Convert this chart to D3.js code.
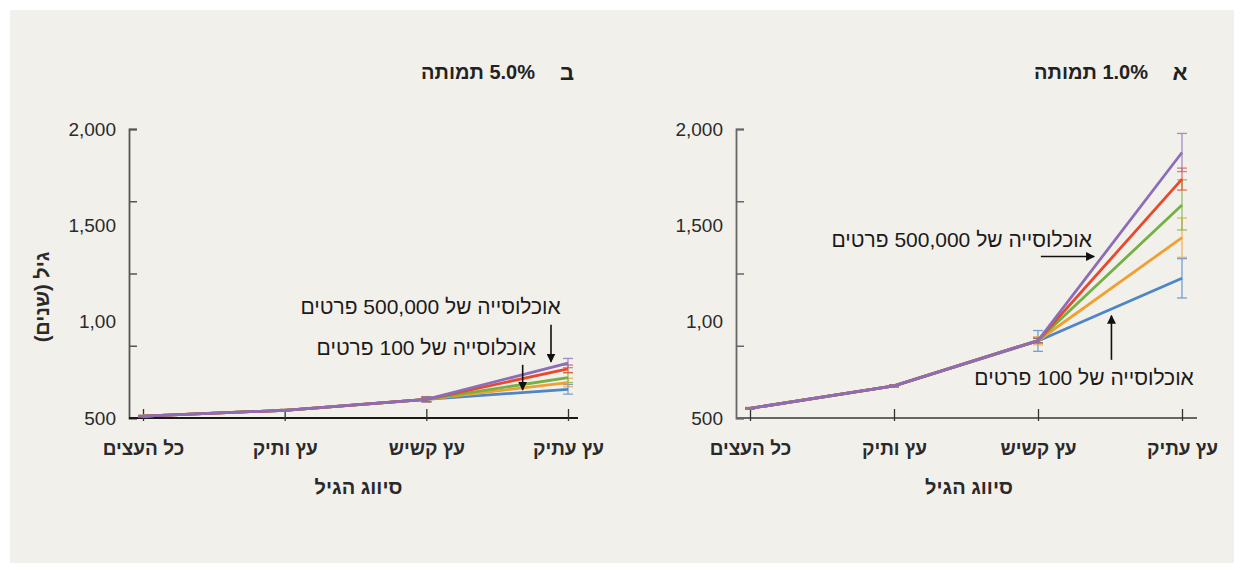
<!DOCTYPE html>
<html>
<head>
<meta charset="utf-8">
<script src="https://cdn.jsdelivr.net/npm/d3@7"></script>
<style>
  html, body { margin: 0; padding: 0; background: #ffffff; }
  svg { display: block; font-family: "Liberation Sans", "DejaVu Sans", "Open Sans", sans-serif; }
</style>
</head>
<body>
<svg id="chart" width="1244" height="573"></svg>
<script>
// ---------- data ----------
const categories = ["כל העצים", "עץ ותיק", "עץ קשיש", "עץ עתיק"];
const seriesKeys = ["s100", "s2", "s3", "s4", "s500000"];
const seriesColors = ["#4d86c6", "#f0a030", "#74b043", "#ea482c", "#8b6db8"];

// panel א : 1.0% mortality
const mortality1Values = [
  [550, 667, 900, 1225],
  [550, 667, 901, 1436],
  [550, 667, 902, 1606],
  [550, 667, 902, 1740],
  [550, 667, 902, 1878]
];
const mortality1Errors = [
  [4, 5, 54, 102],
  [4, 5, 21, 102],
  [4, 5, 12, 130],
  [4, 5, 12, 57],
  [4, 5, 12, 99]
];
// panel ב : 5.0% mortality
const mortality5Values = [
  [510, 540, 597, 649],
  [510, 540, 597, 684],
  [510, 540, 597, 710],
  [510, 540, 597, 755],
  [510, 540, 597, 785]
];
const mortality5Errors = [
  [3, 4, 14, 25],
  [3, 4, 12, 22],
  [3, 4, 12, 26],
  [3, 4, 12, 20],
  [3, 4, 12, 24]
];

const yTickMarks = [500, 875, 1250, 1625, 2000];
const yLabelValues = [500, 1000, 1500, 2000];
const yLabelTexts = ["500", "1,00", "1,500", "2,000"];

const panelLetters = ["א", "ב"];
const panelTitles = ["1.0% תמותה", "5.0% תמותה"];
const xAxisTitle = "סיווג הגיל";
const yAxisTitle = "גיל (שנים)";
const annoBig = "אוכלוסייה של 500,000 פרטים";
const annoSmall = "אוכלוסייה של 100 פרטים";

// ---------- drawing ----------
const svg = d3.select("#chart");
svg.append("rect").attr("x", 10).attr("y", 10).attr("width", 1224).attr("height", 553).attr("fill", "#f2f0ea");

const defs = svg.append("defs");
defs.append("marker").attr("id", "arrow").attr("viewBox", "0 0 10 10")
  .attr("refX", 9).attr("refY", 5).attr("markerWidth", 9).attr("markerHeight", 9)
  .attr("markerUnits", "userSpaceOnUse").attr("orient", "auto")
  .append("path").attr("d", "M0,0 L10,5 L0,10 z").attr("fill", "#111");

const panels = [
  {
    values: mortality1Values, errors: mortality1Errors,
    axisX0: 736, axisX1: 1197, xr: [750, 1182], xAxisColor: "#666", yAxisColor: "#666",
    letter: panelLetters[0], title: panelTitles[0], letterX: 1180, titleX: 1091, showYTitle: false,
    annos: [
      { text: annoBig, tx: 1.47, ty: 1427 },
      { text: annoSmall, tx: 2.32, ty: 708 }
    ],
    arrows: [
      { x1: 2.02, y1: 1338, x2: 2.39, y2: 1338 },
      { x1: 2.51, y1: 802, x2: 2.51, y2: 1031 }
    ]
  },
  {
    values: mortality5Values, errors: mortality5Errors,
    axisX0: 129, axisX1: 578, xr: [143, 568], xAxisColor: "#1a1a1a", yAxisColor: "#555",
    letter: panelLetters[1], title: panelTitles[1], letterX: 567, titleX: 478, showYTitle: true,
    annos: [
      { text: annoBig, tx: 2.03, ty: 1078 },
      { text: annoSmall, tx: 2.0, ty: 865 }
    ],
    arrows: [
      { x1: 2.88, y1: 984, x2: 2.88, y2: 792 },
      { x1: 2.68, y1: 776, x2: 2.68, y2: 646 }
    ]
  }
];

const y = d3.scaleLinear().domain([500, 2000]).range([418, 129]);

panels.forEach(p => {
  const x = d3.scalePoint().domain(categories).range(p.xr);
  const xi = d3.scaleLinear().domain([0, categories.length - 1]).range(p.xr);
  const g = svg.append("g");

  const yAxisG = g.append("g").attr("transform", `translate(${p.axisX0},0)`)
    .call(d3.axisLeft(y).tickValues(yTickMarks).tickSize(-8).tickFormat(""));
  yAxisG.select(".domain").attr("stroke", p.yAxisColor).attr("stroke-width", 1.8);
  yAxisG.selectAll(".tick line").attr("stroke", p.yAxisColor).attr("stroke-width", 1.5);

  const yLab = g.append("g").attr("transform", `translate(${p.axisX0},0)`)
    .call(d3.axisLeft(y).tickValues(yLabelValues).tickSize(0).tickPadding(13)
      .tickFormat((d, i) => yLabelTexts[i]));
  yLab.select(".domain").remove();
  yLab.selectAll("text").attr("font-size", 19).attr("fill", "#2a2a2a")
    .attr("font-family", "Liberation Sans, DejaVu Sans, sans-serif");

  const xAxisG = g.append("g").attr("transform", "translate(0,418)")
    .call(d3.axisBottom(x).tickSizeInner(-9).tickSizeOuter(0).tickPadding(24));
  xAxisG.select(".domain").attr("d", `M${p.axisX0},0H${p.axisX1}`)
    .attr("stroke", p.xAxisColor).attr("stroke-width", 2);
  xAxisG.selectAll(".tick line").attr("stroke", "#333").attr("stroke-width", 1.3).attr("y2", -9).attr("y1", 3);
  xAxisG.selectAll("text").attr("font-size", 19).attr("font-weight", "bold").attr("fill", "#2a2a2a")
    .style("direction", "rtl");

  g.append("text").attr("x", (p.xr[0] + p.xr[1]) / 2 + 3).attr("y", 494)
    .attr("text-anchor", "middle").attr("font-size", 20).attr("font-weight", "bold")
    .attr("fill", "#2a2a2a").style("direction", "rtl").text(xAxisTitle);

  g.append("text").attr("x", p.letterX).attr("y", 80).attr("text-anchor", "middle")
    .attr("font-size", 22).attr("font-weight", "bold").attr("fill", "#222").text(p.letter);
  g.append("text").attr("x", p.titleX).attr("y", 79).attr("text-anchor", "middle")
    .attr("font-size", 20).attr("font-weight", "bold").attr("fill", "#222")
    .style("direction", "rtl").text(p.title);

  if (p.showYTitle) {
    g.append("text").attr("transform", `translate(49,297) rotate(-90)`)
      .attr("text-anchor", "middle").attr("font-size", 20).attr("font-weight", "bold")
      .attr("fill", "#2a2a2a").style("direction", "rtl").text(yAxisTitle);
  }

  const line = d3.line().x((d, i) => x(categories[i])).y(d => y(d));
  p.values.forEach((vals, si) => {
    const col = seriesColors[si];
    const eg = g.append("g").attr("stroke", col).attr("stroke-width", 1.3).attr("opacity", 0.75);
    vals.forEach((v, ci) => {
      const e = p.errors[si][ci];
      const cx = x(categories[ci]);
      eg.append("line").attr("x1", cx).attr("x2", cx).attr("y1", y(v - e)).attr("y2", y(v + e));
      eg.append("line").attr("x1", cx - 5).attr("x2", cx + 5).attr("y1", y(v - e)).attr("y2", y(v - e));
      eg.append("line").attr("x1", cx - 5).attr("x2", cx + 5).attr("y1", y(v + e)).attr("y2", y(v + e));
    });
  });
  p.values.forEach((vals, si) => {
    g.append("path").datum(vals).attr("d", line).attr("fill", "none")
      .attr("stroke", seriesColors[si]).attr("stroke-width", 2.8).attr("stroke-linejoin", "round");
  });

  p.annos.forEach(a => {
    g.append("text").attr("x", xi(a.tx)).attr("y", y(a.ty)).attr("dy", "0.35em")
      .attr("text-anchor", "middle").attr("font-size", 21).attr("fill", "#1a1a1a")
      .style("direction", "rtl").text(a.text);
  });
  p.arrows.forEach(a => {
    g.append("line").attr("x1", xi(a.x1)).attr("y1", y(a.y1)).attr("x2", xi(a.x2)).attr("y2", y(a.y2))
      .attr("stroke", "#111").attr("stroke-width", 1.6).attr("marker-end", "url(#arrow)");
  });
});
</script>
</body>
</html>
